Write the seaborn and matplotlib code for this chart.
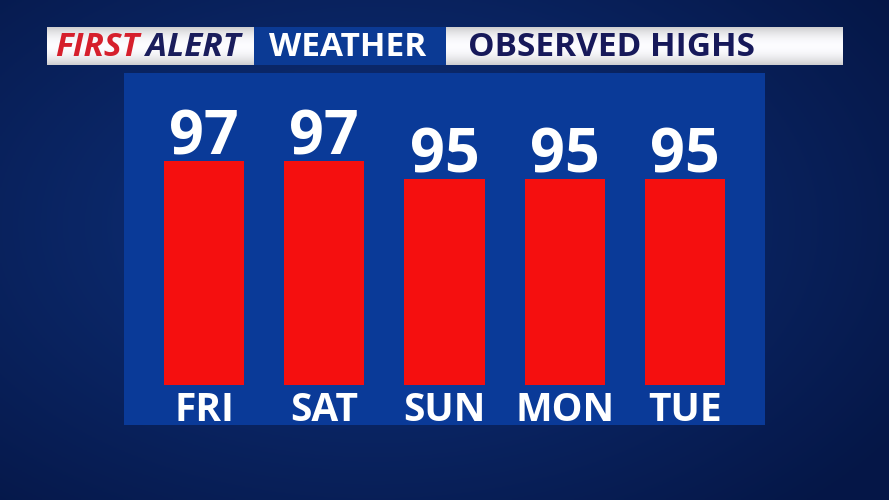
import matplotlib
matplotlib.use('Agg')
import matplotlib.pyplot as plt
import seaborn as sns
import numpy as np
import pandas as pd

# 데이터
days = ['FRI', 'SAT', 'SUN', 'MON', 'TUE']
highs = [97, 97, 95, 95, 95]

df = pd.DataFrame({'day': days, 'high': highs})

sns.set_theme(style='white')
plt.rcParams['font.family'] = ['Open Sans', 'DejaVu Sans']

W, H = 889, 500
fig = plt.figure(figsize=(W / 100, H / 100), dpi=100)

def fx(px):
    return px / W

def fy(py):
    return 1 - py / H

# 배경 (어두운 파란색 그라데이션)
bg = fig.add_axes([0, 0, 1, 1], zorder=0)
bg.set_xlim(0, 1)
bg.set_ylim(0, 1)
yy, xx = np.mgrid[0:1:200j, 0:1:356j]
r = np.sqrt((xx - 0.42) ** 2 * 1.2 + (yy - 0.55) ** 2)
shade = np.clip(1 - r * 1.3, 0, 1)
c_dark = np.array([0.02, 0.09, 0.28])
c_light = np.array([0.06, 0.20, 0.50])
img = c_dark[None, None, :] + (c_light - c_dark)[None, None, :] * shade[:, :, None]
bg.imshow(img, aspect='auto', extent=[0, 1, 0, 1], origin='lower', zorder=0)

# 패널
bg.add_patch(plt.Rectangle((fx(124), fy(425)), fx(765) - fx(124), fy(73) - fy(425),
                           facecolor='#0a3a98', edgecolor='none', zorder=1))

# 헤더 박스 (위아래 살짝 회색 그라데이션)
g = np.linspace(0, 1, 40)
grad = 1 - 0.18 * (np.abs(g - 0.5) * 2) ** 2
white_box = np.repeat(grad[:, None], 10, axis=1)
white_rgb = np.stack([white_box * 0.99, white_box * 0.99, white_box], axis=2)
bg.imshow(white_rgb, aspect='auto', extent=[fx(47), fx(254), fy(65), fy(27)], zorder=2)
bg.imshow(white_rgb, aspect='auto', extent=[fx(446), fx(842), fy(65), fy(27)], zorder=2)
bg.add_patch(plt.Rectangle((fx(254), fy(65)), fx(446) - fx(254), fy(27) - fy(65),
                           facecolor='#0b3a94', edgecolor='none', zorder=2))
bg.axis('off')

hy = fy(47)
t1 = fig.text(fx(55), hy, 'FIRST', color='#d61f2c', fontsize=24, fontweight='bold',
              fontstyle='italic', ha='left', va='center', zorder=3)
fig.canvas.draw()
x_end = fig.transFigure.inverted().transform(t1.get_window_extent().p1)[0]
fig.text(x_end + fx(7), hy, 'ALERT', color='#1a1d5c', fontsize=24, fontweight='bold',
         fontstyle='italic', ha='left', va='center', zorder=3)
fig.text(fx(348), hy, 'WEATHER', color='white', fontsize=24, fontweight='bold',
         ha='center', va='center', zorder=3)
fig.text(fx(468), hy, 'OBSERVED HIGHS', color='#17195a', fontsize=24, fontweight='bold',
         ha='left', va='center', zorder=3)

# 막대그래프
ax = fig.add_axes([fx(144), fy(385), fx(745) - fx(144), fy(73) - fy(385)], zorder=2)
ax.patch.set_alpha(0)
sns.barplot(x='day', y='high', data=df, color='#f50f0f', saturation=1, width=0.667,
            edgecolor='none', linewidth=0, ax=ax)
ax.set_ylim(72.1, 106.8)
ax.set_xlim(-0.5, 4.5)
ax.bar_label(ax.containers[0], padding=-6, fontsize=44, fontweight='bold', color='white')

ax.set_xlabel('')
ax.set_ylabel('')
ax.set_yticks([])
ax.tick_params(axis='x', length=0, pad=4, labelsize=28, labelcolor='white')
for t in ax.get_xticklabels():
    t.set_fontweight('bold')
for s in ax.spines.values():
    s.set_visible(False)

fig.savefig('out.png', dpi=100)
